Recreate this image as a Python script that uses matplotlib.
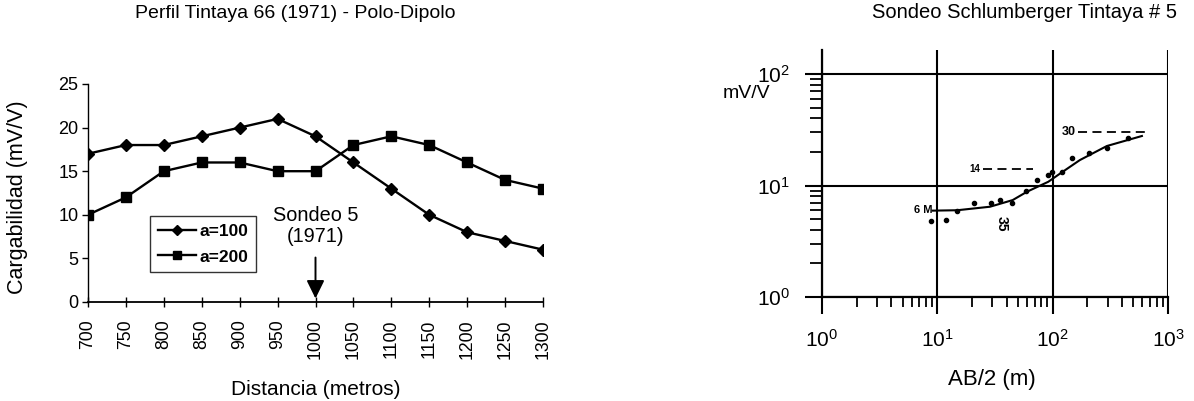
import matplotlib
matplotlib.use("Agg")
import matplotlib.pyplot as plt
import matplotlib.ticker as mticker

plt.rcParams['font.family'] = ['Liberation Sans', 'DejaVu Sans']
plt.rcParams['mathtext.fontset'] = 'custom'
plt.rcParams['mathtext.rm'] = 'Liberation Sans'
plt.rcParams['mathtext.default'] = 'regular'

# ---- Left chart data ----
distancia = [700, 750, 800, 850, 900, 950, 1000, 1050, 1100, 1150, 1200, 1250, 1300]
a100 = [17, 18, 18, 19, 20, 21, 19, 16, 13, 10, 8, 7, 6]
a200 = [10, 12, 15, 16, 16, 15, 15, 18, 19, 18, 16, 14, 13]
y_ticks_left = [0, 5, 10, 15, 20, 25]

# ---- Right chart data ----
ab2_pts = [8.8, 11.9, 14.9, 20.8, 29.2, 35.2, 44.3, 58.6, 72.5, 91.6, 98, 120, 147, 207, 295, 453]
mvv_pts = [4.8, 4.88, 5.87, 7.0, 6.9, 7.4, 6.9, 9.0, 11.2, 12.4, 13.3, 13.3, 17.5, 19.4, 21.6, 26.5]
curve_x = [9.1, 14.9, 28.6, 45, 60, 91.6, 116, 172, 295, 594]
curve_y = [5.95, 6.0, 6.45, 7.4, 8.8, 10.8, 12.8, 16.9, 22.6, 27.8]
dash14_x = [25, 67]
dash14_y = [14, 14]
dash30_x = [166, 700]
dash30_y = [30, 30]

W, H = 1194, 401
fig = plt.figure(figsize=(W / 100, H / 100), dpi=100)
fig.patch.set_facecolor('white')

# ---------------- Left axes ----------------
axL = fig.add_axes([88 / W, 1 - 302 / H, (543 - 88) / W, (302 - 84) / H])
axL.plot(distancia, a100, color='black', lw=1.7, marker='D', ms=6, label='a=100')
axL.plot(distancia, a200, color='black', lw=1.7, marker='s', ms=7.5, label='a=200')
axL.set_xlim(700, 1300)
axL.set_ylim(0, 25)
axL.set_xticks(distancia)
axL.set_xticklabels([str(d) for d in distancia], rotation=90, fontsize=12.7)
axL.set_yticks(y_ticks_left)
axL.tick_params(axis='x', direction='inout', length=7, width=1, pad=9)
axL.tick_params(axis='y', direction='out', length=4, width=1, pad=3, labelsize=13)
for s in ['top', 'right']:
    axL.spines[s].set_visible(False)
axL.spines['left'].set_linewidth(1)
axL.spines['bottom'].set_linewidth(1.3)
axL.set_facecolor('none')
axL.set_ylabel('Cargabilidad (mV/V)', fontsize=15.5)
axL.yaxis.set_label_coords(-0.132, 0.479)
axL.set_xlabel('Distancia (metros)', fontsize=15)
axL.xaxis.set_label_coords(0.5, -0.36)
fig.text(295 / W, 1 - 13 / H, 'Perfil Tintaya 66 (1971) - Polo-Dipolo', ha='center',
         va='center', fontsize=14)
leg = axL.legend(loc='lower left', bbox_to_anchor=(0.136, 0.136), fontsize=12.5,
                 frameon=True, fancybox=False, edgecolor='black', handlelength=2.2,
                 handletextpad=0.2, borderpad=0.45, labelspacing=0.6, borderaxespad=0,
                 markerscale=0.8)
leg.get_frame().set_linewidth(1)
for t in leg.get_texts():
    t.set_fontweight('bold')
axL.text(1000, 8.7, 'Sondeo 5\n(1971)', ha='center', va='center', fontsize=14.3,
         linespacing=1.15)
axL.annotate('', xy=(1000, 0.4), xytext=(1000, 5.1),
             arrowprops=dict(arrowstyle='-|>,head_length=0.55,head_width=0.27',
                             color='black', lw=1.4, mutation_scale=20,
                             shrinkA=0, shrinkB=0))

# ---------------- Right axes ----------------
ytop = 10 ** (2 + 24 / 111.5)
axR = fig.add_axes([822 / W, 1 - 297 / H, (1168 - 822) / W, (297 - 50) / H])
axR.set_xscale('log')
axR.set_yscale('log')
axR.set_xlim(1, 1000)
axR.set_ylim(1, ytop)
axR.scatter(ab2_pts, mvv_pts, s=9, color='black', zorder=3)
axR.plot(curve_x, curve_y, color='black', lw=1.5, zorder=3)
axR.plot(dash14_x, dash14_y, color='black', lw=1.3, ls=(0, (5, 3)))
axR.plot(dash30_x, dash30_y, color='black', lw=1.3, ls=(0, (5, 3)))
axR.text(23.5, 14, '14', ha='right', va='center', fontsize=7, fontweight='bold')
axR.text(158, 30, '30', ha='right', va='center', fontsize=9, fontweight='bold')
axR.text(9.0, 6.0, '6 M', ha='right', va='center', fontsize=8, fontweight='bold')
axR.text(36.4, 4.52, '35', ha='center', va='center', fontsize=10, fontweight='bold',
         rotation=270)
axR.set_xticks([1, 10, 100, 1000])
axR.set_yticks([1, 10, 100])
axR.grid(True, which='major', color='black', lw=1.5)
axR.tick_params(axis='both', which='major', direction='out', length=12, width=1.5,
                labelsize=15)
axR.tick_params(axis='x', which='major', pad=11)
axR.tick_params(axis='y', which='major', pad=11)
axR.tick_params(axis='x', which='minor', direction='out', length=7, width=1.3)
axR.tick_params(axis='y', which='minor', direction='out', length=9, width=1.3)
axR.yaxis.set_minor_formatter(mticker.NullFormatter())
axR.xaxis.set_minor_formatter(mticker.NullFormatter())
for s in ['top', 'right']:
    axR.spines[s].set_visible(False)
axR.spines['left'].set_linewidth(1.6)
axR.spines['bottom'].set_linewidth(1.6)
axR.set_facecolor('none')
axR.set_xlabel('AB/2 (m)', fontsize=16)
axR.xaxis.set_label_coords(0.49, -0.29)
fig.text(746 / W, 1 - 93 / H, 'mV/V', ha='center', va='center', fontsize=14)
fig.text(1025 / W, 1 - 13 / H, 'Sondeo Schlumberger Tintaya # 5', ha='center',
         va='center', fontsize=14.5)

fig.savefig('out.png', dpi=100, facecolor='white')
